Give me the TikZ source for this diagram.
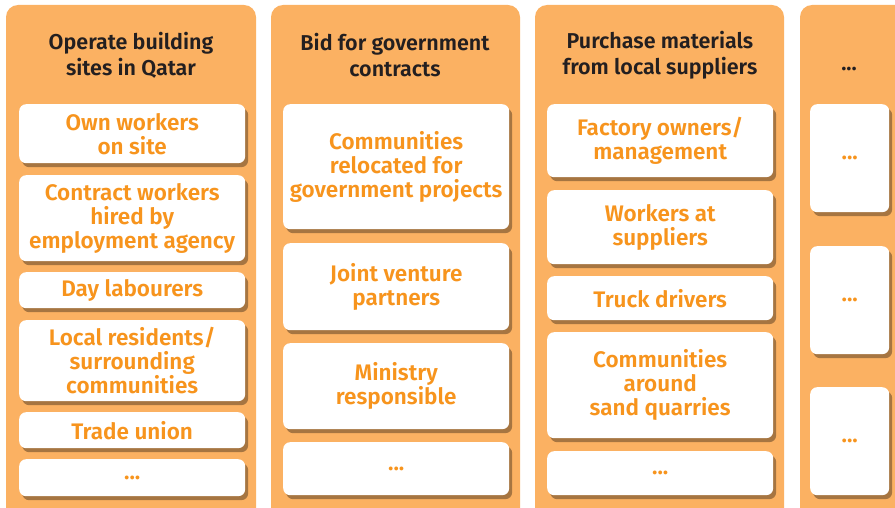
\documentclass[tikz,border=0pt]{standalone}
\usepackage{fontspec}
\setmainfont{Fira Sans}[BoldFont={Fira Sans SemiBold}]
\usetikzlibrary{shadows}
\definecolor{lanefill}{HTML}{FBB162}
\definecolor{itemtext}{HTML}{F7941D}
\definecolor{headtext}{HTML}{231F20}
\tikzset{
  lane/.style={fill=lanefill, rounded corners=12pt},
  head/.style={align=center, text=headtext, inner sep=0pt,
    font=\bfseries\fontsize{21.5}{26}\selectfont},
  item/.style={fill=white, rounded corners=7pt, anchor=north west,
    align=center, inner sep=0pt, text=itemtext,
    font=\bfseries\fontsize{22.5}{24}\selectfont,
    drop shadow={shadow xshift=3pt, shadow yshift=-4pt,
      fill=lanefill!55!black, opacity=.75}},
}

\begin{document}
\begin{tikzpicture}[x=1pt, y=-1pt]
  \useasboundingbox (0,0) rectangle (895,508);
  \clip (0,0) rectangle (895,508);
  % columns
  \fill[lane] (6,5) rectangle (256,520);
  \fill[lane] (271,5) rectangle (520,520);
  \fill[lane] (535,5) rectangle (784,520);
  \fill[lane] (800,5) rectangle (910,520);
  % column headings
  \node[head] (opsites) at (131,55) {Operate building\\sites in Qatar};
  \node[head] (bidgov) at (395,55) {Bid for government\\contracts};
  \node[head] (purchase) at (660,55) {Purchase materials\\from local suppliers};
  \node[head] (more) at (849,69) {...};
  % operate building sites
  \node[item, minimum width=226, minimum height=59] (ownwk) at (19,104) {Own workers\\on site};
  \node[item, minimum width=226, minimum height=86] (contract) at (19,175) {Contract workers\\hired by\\employment agency};
  \node[item, minimum width=226, minimum height=36] (daylab) at (19,272) {Day labourers};
  \node[item, minimum width=226, minimum height=81] (locres) at (19,320) {Local residents/\\surrounding\\communities};
  \node[item, minimum width=226, minimum height=36] (union) at (19,412) {Trade union};
  \node[item, minimum width=226, minimum height=37] (opmore) at (19,459) {...};
  % bid for government contracts
  \node[item, minimum width=226, minimum height=125] (reloc) at (283,104) {Communities\\relocated for\\government projects};
  \node[item, minimum width=226, minimum height=87] (jointv) at (283,243) {Joint venture\\partners};
  \node[item, minimum width=226, minimum height=86] (ministry) at (283,343) {Ministry\\responsible};
  \node[item, minimum width=226, minimum height=53] (bidmore) at (283,442) {...};
  % purchase materials
  \node[item, minimum width=226, minimum height=73] (factory) at (547,104) {Factory owners/\\management};
  \node[item, minimum width=226, minimum height=74] (suppwk) at (547,190) {Workers at\\suppliers};
  \node[item, minimum width=226, minimum height=44] (truck) at (547,276) {Truck drivers};
  \node[item, minimum width=226, minimum height=106] (quarry) at (547,332) {Communities\\around\\sand quarries};
  \node[item, minimum width=226, minimum height=44] (purmore) at (547,451) {...};
  % further columns
  \node[item, minimum width=79, minimum height=108] (moreA) at (810,104) {...};
  \node[item, minimum width=79, minimum height=108] (moreB) at (810,246) {...};
  \node[item, minimum width=79, minimum height=108] (moreC) at (810,387) {...};
\end{tikzpicture}
\end{document}
